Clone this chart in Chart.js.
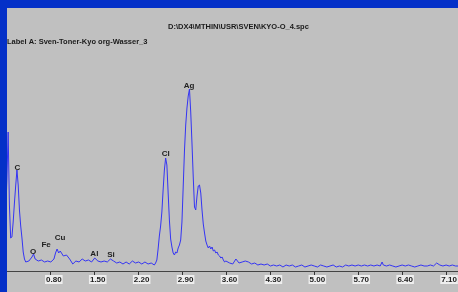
<!DOCTYPE html>
<html>
<head>
<meta charset="utf-8">
<script src="https://cdn.jsdelivr.net/npm/chart.js@4"></script>
<style>
  html, body { margin: 0; padding: 0; background: #c0c0c0; }
  canvas { display: block; }
</style>
</head>
<body>
<canvas id="spectrum" width="458" height="292"></canvas>
<script>
// texts of the screenshot
const fileName = 'D:\\DX4\\MTHIN\\USR\\SVEN\\KYO-O_4.spc';
const labelA = 'Label A: Sven-Toner-Kyo org-Wasser_3';

// energy axis (keV) and counts (arbitrary units)
const energy = [
  0.08, 0.10, 0.12, 0.14, 0.16, 0.18, 0.20, 0.22, 0.24, 0.26, 0.28, 0.30, 0.32, 0.34, 0.36, 0.38, 0.40,
  0.45, 0.50, 0.525, 0.55, 0.60, 0.65, 0.70, 0.75, 0.80, 0.85, 0.875, 0.90, 0.925, 0.95, 1.00, 1.05, 1.10,
  1.15, 1.20, 1.25, 1.30, 1.35, 1.40, 1.45, 1.50, 1.55, 1.60, 1.65, 1.70, 1.75, 1.80, 1.85, 1.90, 1.95,
  2.00, 2.05, 2.10, 2.15, 2.20, 2.25, 2.30, 2.35, 2.40, 2.45,
  2.47, 2.49, 2.51, 2.53, 2.55, 2.57, 2.59, 2.61, 2.63, 2.65, 2.67, 2.69, 2.71, 2.73, 2.75, 2.77, 2.79,
  2.81, 2.83, 2.85, 2.87, 2.89, 2.91, 2.93, 2.95, 2.97, 2.99, 3.01, 3.03, 3.05, 3.07, 3.09, 3.11, 3.13,
  3.15, 3.17, 3.19, 3.21, 3.23, 3.25, 3.27, 3.29, 3.31, 3.33, 3.35, 3.37, 3.39, 3.41, 3.43, 3.45, 3.47,
  3.49, 3.51, 3.53, 3.55, 3.57, 3.59,
  3.65, 3.70, 3.75, 3.80, 3.85, 3.90, 3.95, 4.00, 4.05, 4.10, 4.15, 4.20, 4.25, 4.30, 4.35, 4.40, 4.45,
  4.50, 4.55, 4.60, 4.65, 4.70, 4.75, 4.80, 4.85, 4.90, 4.95, 5.00, 5.05, 5.10, 5.15, 5.20, 5.25, 5.30,
  5.35, 5.40, 5.45, 5.50, 5.55, 5.60, 5.65, 5.70, 5.75, 5.80, 5.85, 5.90, 5.95, 6.00, 6.05, 6.08, 6.10,
  6.15, 6.20, 6.25, 6.30, 6.35, 6.40, 6.45, 6.50, 6.55, 6.60, 6.65, 6.70, 6.75, 6.80, 6.85, 6.90, 6.95,
  7.00, 7.05, 7.10, 7.15, 7.20, 7.25, 7.30
];
const counts = [
  56, 91, 139, 66, 33, 34, 49, 68, 85, 101, 86, 61, 45, 33, 19, 12, 9,
  10, 14, 17, 12, 10, 11, 9, 10, 9, 12, 18, 22, 18, 20, 15, 16, 12,
  7, 10, 9, 12, 10, 11, 9, 13, 10, 9, 10, 9, 12, 10, 8, 9, 7,
  9, 7, 10, 8, 9, 7, 9, 7, 8, 6,
  8, 11, 22, 35, 45, 59, 81, 101, 113, 106, 78, 51, 32, 24, 18, 16, 19,
  18, 23, 26, 31, 49, 84, 120, 146, 163, 175, 182, 159, 128, 94, 64, 61, 75,
  85, 86, 78, 61, 47, 38, 30, 26, 23, 25, 22, 24, 20, 21, 18, 19, 16,
  15, 13, 14, 11, 9, 10,
  8, 7, 12, 8, 9, 10, 9, 7, 8, 6, 7, 6, 7, 5, 6, 5, 6,
  4, 6, 5, 6, 4, 5, 6, 4, 5, 6, 5, 4, 6, 5, 4, 5, 6,
  4, 5, 4, 6, 5, 6, 5, 6, 5, 6, 5, 6, 5, 6, 5, 9, 6,
  5, 6, 5, 4, 5, 6, 5, 6, 5, 4, 5, 6, 5, 5, 6, 5, 8,
  6, 5, 6, 5, 6, 5, 5
];

// x tick positions (keV)
const tickValues = [0.8, 1.5, 2.2, 2.9, 3.6, 4.3, 5.0, 5.7, 6.4, 7.1];

// element markers
const peakNames = ['C', 'O', 'Fe', 'Cu', 'Al', 'Si', 'Cl', 'Ag'];
const peakEnergy = [0.267, 0.517, 0.724, 0.947, 1.494, 1.760, 2.632, 3.004];
const peakLabelAt = [103, 19, 26, 33, 17, 16, 117, 185];

const frame = {
  id: 'frame',
  beforeDraw(chart) {
    const { ctx, width, height } = chart;
    ctx.save();
    ctx.fillStyle = '#c0c0c0';
    ctx.fillRect(0, 0, width, height);
    ctx.restore();
  },
  afterDraw(chart) {
    const { ctx, scales: { x, y } } = chart;
    ctx.save();
    // element labels
    ctx.font = 'bold 8px "Liberation Sans", Arial, sans-serif';
    ctx.fillStyle = '#222';
    ctx.textAlign = 'center';
    ctx.textBaseline = 'middle';
    peakNames.forEach((name, i) => {
      ctx.fillText(name, x.getPixelForValue(peakEnergy[i]), y.getPixelForValue(peakLabelAt[i]));
    });
    // window frame
    ctx.fillStyle = '#0430c8';
    ctx.fillRect(0, 0, chart.width, 8);
    ctx.fillRect(0, 0, 7, chart.height);
    // header texts
    ctx.font = 'bold 7.5px "Liberation Sans", Arial, sans-serif';
    ctx.fillStyle = '#1a1a1a';
    ctx.textAlign = 'left';
    ctx.fillText(fileName, 168, 27);
    ctx.fillText(labelA, 7, 41.5);
    ctx.restore();
  }
};

new Chart(document.getElementById('spectrum'), {
  type: 'line',
  plugins: [frame],
  data: {
    datasets: [{
      data: energy.map((e, i) => ({ x: e, y: counts[i] })),
      borderColor: '#3434f4',
      borderWidth: 1,
      pointRadius: 0,
      tension: 0,
      fill: false
    }]
  },
  options: {
    responsive: false,
    animation: false,
    layout: { padding: 0 },
    plugins: {
      legend: { display: false },
      tooltip: { enabled: false }
    },
    scales: {
      x: {
        type: 'linear',
        min: -0.01,
        max: 7.29,
        afterBuildTicks: scale => {
          scale.ticks = tickValues.map(v => ({ value: v }));
        },
        afterFit: scale => {
          scale.height = 21;
        },
        grid: {
          drawOnChartArea: false,
          drawTicks: true,
          tickLength: 4,
          color: '#333'
        },
        border: { display: true, color: '#444', width: 1 },
        ticks: {
          autoSkip: false,
          maxRotation: 0,
          padding: 1,
          labelOffset: 3,
          color: '#202020',
          font: { family: '"Liberation Sans", Arial, sans-serif', size: 8, weight: 'bold', lineHeight: 1 },
          showLabelBackdrop: true,
          backdropColor: '#eeeeee',
          backdropPadding: { top: 1, bottom: 0, left: 1, right: 1 },
          callback: value => value.toFixed(2)
        }
      },
      y: {
        display: false,
        min: 0,
        max: 271
      }
    }
  }
});
</script>
</body>
</html>
